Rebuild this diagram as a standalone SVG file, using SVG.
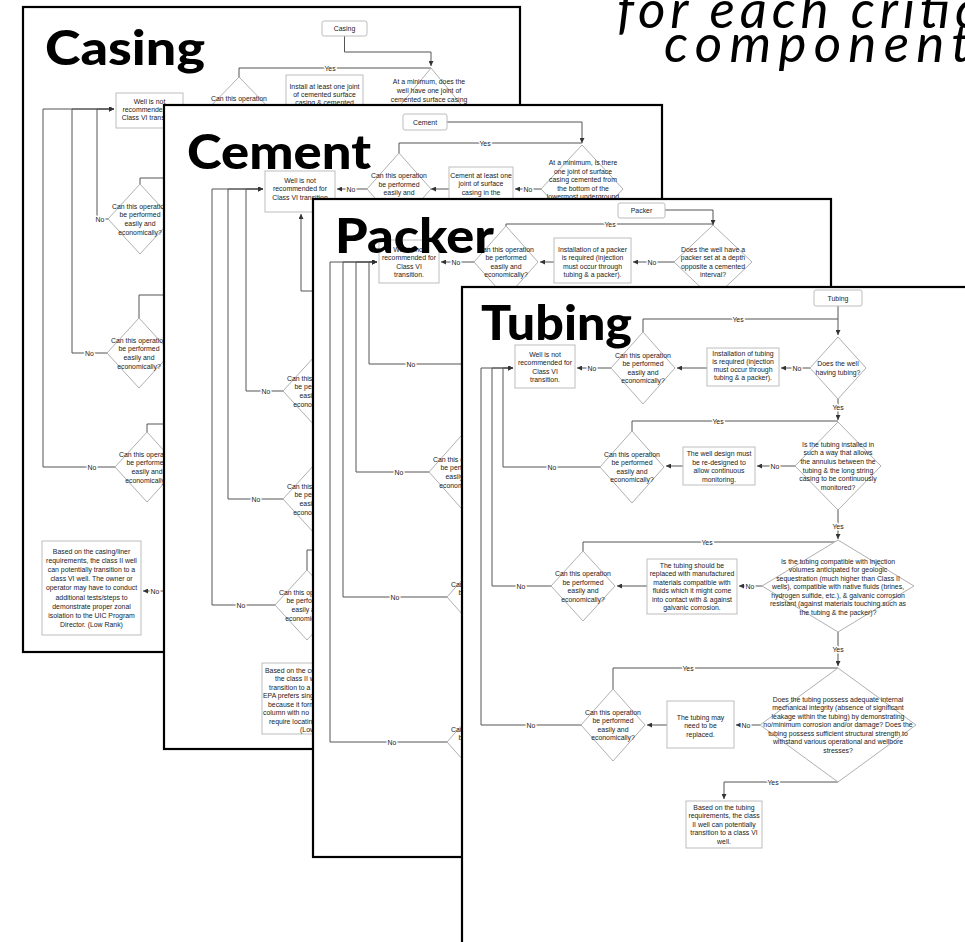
<svg xmlns="http://www.w3.org/2000/svg" width="965" height="942" viewBox="0 0 965 942">
<defs>
<marker id="ah" viewBox="0 0 6 6" refX="6" refY="3" markerWidth="5" markerHeight="5" markerUnits="userSpaceOnUse" orient="auto"><path d="M0,0 L6,3 L0,6 z" fill="#333"/></marker>
<style>
.page{fill:#fff;stroke:#000;stroke-width:2.2}
.title{font-family:"Lato","DejaVu Sans",sans-serif;font-weight:900;font-size:48px;fill:#000}
.head{font-family:"Lato","DejaVu Sans",sans-serif;font-style:italic;font-weight:400;font-size:53px;fill:#000}
.t{font-family:"Liberation Sans",Arial,sans-serif;font-size:6.9px;fill:#222;text-anchor:middle;dominant-baseline:central}
.ts{font-family:"Liberation Sans",Arial,sans-serif;font-size:6.9px;fill:#222;dominant-baseline:central}
.box{fill:#fff;stroke:#bdbdbd;stroke-width:1}
.nd{fill:#fff;stroke:#bdbdbd;stroke-width:1}
.dia{fill:#fff;stroke:#b0b0b0;stroke-width:1}
.ln{fill:none;stroke:#555;stroke-width:1}
.ar{fill:none;stroke:#555;stroke-width:1;marker-end:url(#ah)}
.lb{font-family:"Liberation Sans",Arial,sans-serif;font-size:6.9px;fill:#222;text-anchor:middle;dominant-baseline:central;paint-order:stroke;stroke:#fff;stroke-width:3px;stroke-linejoin:round}
</style>
</defs>

<g id="heading">
<text class="head" x="617" y="28" textLength="362" lengthAdjust="spacing">for each critic</text>
<text class="head" x="664" y="62" textLength="306" lengthAdjust="spacing">component</text>
</g>

<!-- ============ CASING PAGE ============ -->
<g id="page-casing">
<rect class="page" x="23" y="7" width="497" height="645"/>
<text class="title" x="45" y="65" textLength="160" lengthAdjust="spacingAndGlyphs">Casing</text>
<g id="casing-connectors">
<path class="ar" d="M344.5,36 V52 H431 V66"/>
<path class="ln" d="M239,77 V68 H431"/>
<text class="lb" x="330" y="68">Yes</text>
<path class="ar" d="M108,219 H97 V109 H114"/>
<path class="ar" d="M107,353 H72 V109 H114"/>
<path class="ar" d="M115,467 H43 V109 H114"/>
<text class="lb" x="100" y="219">No</text>
<text class="lb" x="89.5" y="353">No</text>
<text class="lb" x="92" y="467">No</text>
<path class="ln" d="M140,184 V178 H200"/>
<path class="ln" d="M139,318 V295 H200"/>
<path class="ln" d="M147,432 V424 H200"/>
<path class="ar" d="M200,591 H143"/>
<text class="lb" x="155" y="591">No</text>
</g>
<g id="casing-start"><rect class="nd" x="322" y="21" width="45" height="15" rx="2"/><text class="t" x="344.5" y="28.5">Casing</text></g>
<g id="casing-q1"><polygon class="dia" points="431,68 497,148 431,228 365,148"/>
<text class="t" x="429" y="81">At a minimum, does the</text>
<text class="t" x="429" y="90">well have one joint of</text>
<text class="t" x="429" y="99">cemented surface casing</text>
<text class="t" x="429" y="107.5">&amp; cemented long string</text></g>
<g id="casing-fix"><rect class="box" x="286" y="75" width="77" height="50"/>
<text class="t" x="324.5" y="86">Install at least one joint</text>
<text class="t" x="324.5" y="94.3">of cemented surface</text>
<text class="t" x="324.5" y="102.6">casing &amp; cemented</text></g>
<g id="casing-ask1"><polygon class="dia" points="239,77 271,110 239,143 207,110"/>
<text class="t" x="239" y="98.3">Can this operation</text>
<text class="t" x="239" y="106.8">be performed</text></g>
<g id="casing-reject"><rect class="box" x="116" y="93" width="67" height="35"/>
<text class="t" x="149.5" y="101">Well is not</text>
<text class="t" x="149.5" y="109">recommended for</text>
<text class="t" x="149.5" y="117">Class VI transition</text></g>
<g id="casing-ask2"><polygon class="dia" points="140,184 172,219 140,254 108,219"/>
<text class="t" x="140" y="206">Can this operation</text>
<text class="t" x="140" y="214.7">be performed</text>
<text class="t" x="140" y="223.4">easily and</text>
<text class="t" x="140" y="232.1">economically?</text></g>
<g id="casing-ask3"><polygon class="dia" points="139,318 171,353 139,388 107,353"/>
<text class="t" x="139" y="340">Can this operation</text>
<text class="t" x="139" y="348.7">be performed</text>
<text class="t" x="139" y="357.4">easily and</text>
<text class="t" x="139" y="366.1">economically?</text></g>
<g id="casing-ask4"><polygon class="dia" points="147,432 179,467 147,502 115,467"/>
<text class="t" x="147" y="454">Can this operation</text>
<text class="t" x="147" y="462.7">be performed</text>
<text class="t" x="147" y="471.4">easily and</text>
<text class="t" x="147" y="480.1">economically?</text></g>
<g id="casing-result"><rect class="box" x="42" y="541" width="99" height="94"/>
<text class="t" x="91.5" y="551">Based on the casing/liner</text>
<text class="t" x="91.5" y="560.2">requirements, the class II well</text>
<text class="t" x="91.5" y="569.4">can potentially transition to a</text>
<text class="t" x="91.5" y="578.6">class VI well. The owner or</text>
<text class="t" x="91.5" y="587.8">operator may have to conduct</text>
<text class="t" x="91.5" y="597">additional tests/steps to</text>
<text class="t" x="91.5" y="606.2">demonstrate proper zonal</text>
<text class="t" x="91.5" y="615.4">isolation to the UIC Program</text>
<text class="t" x="91.5" y="624.6">Director. (Low Rank)</text></g>
</g>

<!-- ============ CEMENT PAGE ============ -->
<g id="page-cement">
<rect class="page" x="164" y="105" width="498" height="644"/>
<text class="title" x="187" y="169" textLength="184" lengthAdjust="spacingAndGlyphs">Cement</text>
<g id="cement-connectors">
<path class="ar" d="M447,122 H582 V143"/>
<path class="ln" d="M399,153 V143 H582"/>
<text class="lb" x="485" y="143">Yes</text>
<path class="ar" d="M541,189 H515"/>
<text class="lb" x="528" y="189">No</text>
<path class="ar" d="M449,189 H431"/>
<path class="ar" d="M367,189 H337"/>
<text class="lb" x="351" y="189">No</text>
<path class="ar" d="M283,391 H246 V189 H263"/>
<path class="ar" d="M283,499 H228 V189 H263"/>
<path class="ar" d="M275,605 H212 V189 H263"/>
<text class="lb" x="266" y="391">No</text>
<text class="lb" x="256" y="499">No</text>
<text class="lb" x="241" y="605">No</text>
<path class="ar" d="M340,291 H301 V214"/>
<path class="ln" d="M307,570 V550 H340"/>
</g>
<g id="cement-start"><rect class="nd" x="403" y="114" width="44" height="16" rx="2"/><text class="t" x="425" y="122">Cement</text></g>
<g id="cement-q1"><polygon class="dia" points="582,145 623,189 582,233 541,189"/>
<text class="t" x="583" y="162">At a minimum, is there</text>
<text class="t" x="583" y="171">one joint of surface</text>
<text class="t" x="583" y="179.5">casing cemented from</text>
<text class="t" x="583" y="188">the bottom of the</text>
<text class="t" x="583" y="196.5">lowermost underground</text></g>
<g id="cement-fix"><rect class="box" x="449" y="167" width="64" height="60"/>
<text class="t" x="481" y="175">Cement at least one</text>
<text class="t" x="481" y="183.8">joint of surface</text>
<text class="t" x="481" y="192.6">casing in the</text></g>
<g id="cement-ask1"><polygon class="dia" points="399,153 431,189 399,225 367,189"/>
<text class="t" x="399" y="175.5">Can this operation</text>
<text class="t" x="399" y="184">be performed</text>
<text class="t" x="399" y="192.5">easily and</text></g>
<g id="cement-reject"><rect class="box" x="265" y="171" width="70" height="41"/>
<text class="t" x="300" y="180">Well is not</text>
<text class="t" x="300" y="188.5">recommended for</text>
<text class="t" x="300" y="197">Class VI transition</text></g>
<g id="cement-ask2"><polygon class="dia" points="315,356 347,391 315,426 283,391"/>
<text class="t" x="315" y="378">Can this operation</text>
<text class="t" x="315" y="386.7">be performed</text>
<text class="t" x="315" y="395.4">easily and</text>
<text class="t" x="315" y="404.1">economically?</text></g>
<g id="cement-ask3"><polygon class="dia" points="315,464 347,499 315,534 283,499"/>
<text class="t" x="315" y="486">Can this operation</text>
<text class="t" x="315" y="494.7">be performed</text>
<text class="t" x="315" y="503.4">easily and</text>
<text class="t" x="315" y="512.1">economically?</text></g>
<g id="cement-ask4"><polygon class="dia" points="307,570 339,605 307,640 275,605"/>
<text class="t" x="307" y="592">Can this operation</text>
<text class="t" x="307" y="600.7">be performed</text>
<text class="t" x="307" y="609.4">easily and</text>
<text class="t" x="307" y="618.1">economically?</text></g>
<g id="cement-result"><rect class="box" x="262" y="663" width="100" height="71"/>
<text class="ts" x="265" y="670">Based on the cement</text>
<text class="ts" x="275" y="678.5">the class II well</text>
<text class="ts" x="269" y="687">transition to a</text>
<text class="ts" x="263" y="695.5">EPA prefers single</text>
<text class="ts" x="268" y="704">because it forms</text>
<text class="ts" x="263" y="712.5">column with no</text>
<text class="ts" x="269" y="721">require locating</text>
<text class="ts" x="300" y="729.5">(Low</text></g>
</g>

<!-- ============ PACKER PAGE ============ -->
<g id="page-packer">
<rect class="page" x="313" y="199" width="518" height="658"/>
<g id="packer-connectors">
<path class="ar" d="M665,210 H713 V225"/>
<path class="ln" d="M506,226 V224 H713"/>
<text class="lb" x="610" y="224">Yes</text>
<path class="ar" d="M674,262 H633"/>
<text class="lb" x="652" y="262">No</text>
<path class="ar" d="M554,262 H540"/>
<path class="ar" d="M474,262 H441"/>
<text class="lb" x="456" y="262">No</text>
<path class="ar" d="M480,364 H369 V262 H377"/>
<path class="ar" d="M429,472 H356 V262 H377"/>
<path class="ar" d="M447,597 H343 V262 H377"/>
<path class="ar" d="M447,742 H330 V262 H377"/>
<text class="lb" x="411" y="364">No</text>
<text class="lb" x="399" y="472">No</text>
<text class="lb" x="395" y="597">No</text>
<text class="lb" x="392" y="742">No</text>
</g>
<g id="packer-start"><rect class="nd" x="618" y="203" width="47" height="15" rx="2"/><text class="t" x="641.5" y="210.5">Packer</text></g>
<g id="packer-q1"><polygon class="dia" points="713,225 752,262 713,299 674,262"/>
<text class="t" x="713" y="249">Does the well have a</text>
<text class="t" x="713" y="257.5">packer set at a depth</text>
<text class="t" x="713" y="266">opposite a cemented</text>
<text class="t" x="713" y="274.5">interval?</text></g>
<g id="packer-fix"><rect class="box" x="554" y="238" width="77" height="45"/>
<text class="t" x="592.5" y="249">Installation of a packer</text>
<text class="t" x="592.5" y="257.5">is required (injection</text>
<text class="t" x="592.5" y="266">must occur through</text>
<text class="t" x="592.5" y="274.5">tubing &amp; a packer).</text></g>
<g id="packer-ask1"><polygon class="dia" points="506,226 538,262 506,298 474,262"/>
<text class="t" x="506" y="249">Can this operation</text>
<text class="t" x="506" y="257.5">be performed</text>
<text class="t" x="506" y="266">easily and</text>
<text class="t" x="506" y="274.5">economically?</text></g>
<g id="packer-reject"><rect class="box" x="379" y="240" width="60" height="43"/>
<text class="t" x="409" y="249">Well is not</text>
<text class="t" x="409" y="257.5">recommended for</text>
<text class="t" x="409" y="266">Class VI</text>
<text class="t" x="409" y="274.5">transition.</text></g>
<g id="packer-ask2"><polygon class="dia" points="461,436 493,472 461,508 429,472"/>
<text class="t" x="461" y="459">Can this operation</text>
<text class="t" x="461" y="467.7">be performed</text>
<text class="t" x="461" y="476.4">easily and</text>
<text class="t" x="461" y="485.1">economically?</text></g>
<g id="packer-ask3"><polygon class="dia" points="479,561 511,597 479,633 447,597"/>
<text class="t" x="479" y="584">Can this operation</text>
<text class="t" x="479" y="592.7">be performed</text>
<text class="t" x="479" y="601.4">easily and</text></g>
<g id="packer-ask4"><polygon class="dia" points="479,706 511,742 479,778 447,742"/>
<text class="t" x="479" y="729">Can this operation</text>
<text class="t" x="479" y="737.7">be performed</text>
<text class="t" x="479" y="746.4">easily and</text></g>
<text class="title" x="335" y="253" textLength="159" lengthAdjust="spacingAndGlyphs">Packer</text>
</g>

<!-- ============ TUBING PAGE ============ -->
<g id="page-tubing">
<rect class="page" x="462" y="287" width="540" height="700"/>
<g id="tubing-connectors">
<path class="ar" d="M838,306 V335"/>
<path class="ln" d="M643,332 V319 H838"/>
<text class="lb" x="738" y="319">Yes</text>
<path class="ar" d="M810,368 H781"/>
<text class="lb" x="797" y="368">No</text>
<path class="ar" d="M707,368 H677"/>
<path class="ar" d="M611,368 H577"/>
<text class="lb" x="592" y="368">No</text>
<path class="ar" d="M838,399 V420"/>
<text class="lb" x="838" y="407">Yes</text>
<path class="ln" d="M632,431 V421 H838"/>
<text class="lb" x="718" y="421">Yes</text>
<path class="ar" d="M795,466 H757"/>
<text class="lb" x="775" y="466">No</text>
<path class="ar" d="M683,466 H666"/>
<path class="ar" d="M600,467 H503 V368 H513"/>
<path class="ar" d="M551,586 H492 V368 H513"/>
<path class="ar" d="M581,725 H481 V368 H513"/>
<text class="lb" x="552" y="467">No</text>
<text class="lb" x="521" y="586">No</text>
<text class="lb" x="531" y="725">No</text>
<path class="ar" d="M838,510 V539"/>
<text class="lb" x="838" y="526">Yes</text>
<path class="ln" d="M583,551 V542 H838"/>
<text class="lb" x="707" y="542">Yes</text>
<path class="ar" d="M762,586 H739"/>
<text class="lb" x="750" y="586">No</text>
<path class="ar" d="M647,586 H617"/>
<path class="ar" d="M838,632 V666"/>
<text class="lb" x="838" y="649">Yes</text>
<path class="ln" d="M613,689 V668 H838"/>
<text class="lb" x="688" y="668">Yes</text>
<path class="ar" d="M760,725 H736"/>
<text class="lb" x="746" y="725">No</text>
<path class="ar" d="M667,725 H647"/>
<path class="ar" d="M838,782 H724 V799"/>
<text class="lb" x="773" y="782">Yes</text>
</g>
<g id="tubing-start"><rect class="nd" x="814" y="290" width="48" height="16" rx="2"/><text class="t" x="838" y="298">Tubing</text></g>
<g id="tubing-q1"><polygon class="dia" points="838,337 866,368 838,399 810,368"/>
<text class="t" x="838" y="363.5">Does the well</text>
<text class="t" x="838" y="372">having tubing?</text></g>
<g id="tubing-fix1"><rect class="box" x="707" y="348" width="72" height="38"/>
<text class="t" x="743" y="353.5">Installation of tubing</text>
<text class="t" x="743" y="361.5">is required (injection</text>
<text class="t" x="743" y="369.5">must occur through</text>
<text class="t" x="743" y="377.5">tubing &amp; a packer).</text></g>
<g id="tubing-ask1"><polygon class="dia" points="643,332 675,368 643,404 611,368"/>
<text class="t" x="643" y="355">Can this operation</text>
<text class="t" x="643" y="363.5">be performed</text>
<text class="t" x="643" y="372">easily and</text>
<text class="t" x="643" y="380.5">economically?</text></g>
<g id="tubing-reject"><rect class="box" x="515" y="345" width="60" height="43"/>
<text class="t" x="545" y="354">Well is not</text>
<text class="t" x="545" y="362.5">recommended for</text>
<text class="t" x="545" y="371">Class VI</text>
<text class="t" x="545" y="379.5">transition.</text></g>
<g id="tubing-q2"><polygon class="dia" points="838,422 881,466 838,510 795,466"/>
<text class="t" x="838" y="444">Is the tubing installed in</text>
<text class="t" x="838" y="452.7">such a way that allows</text>
<text class="t" x="838" y="461.4">the annulus between the</text>
<text class="t" x="838" y="470.1">tubing &amp; the long string</text>
<text class="t" x="838" y="478.8">casing to be continuously</text>
<text class="t" x="838" y="487.5">monitored?</text></g>
<g id="tubing-fix2"><rect class="box" x="683" y="447" width="72" height="38"/>
<text class="t" x="719" y="453.5">The well design must</text>
<text class="t" x="719" y="462">be re-designed to</text>
<text class="t" x="719" y="470.5">allow continuous</text>
<text class="t" x="719" y="479">monitoring.</text></g>
<g id="tubing-ask2"><polygon class="dia" points="632,431 664,467 632,503 600,467"/>
<text class="t" x="632" y="454">Can this operation</text>
<text class="t" x="632" y="462.5">be performed</text>
<text class="t" x="632" y="471">easily and</text>
<text class="t" x="632" y="479.5">economically?</text></g>
<g id="tubing-q3"><polygon class="dia" points="838,540 914,586 838,632 762,586"/>
<text class="t" x="838" y="561">Is the tubing compatible with injection</text>
<text class="t" x="838" y="569.5">volumes anticipated for geologic</text>
<text class="t" x="838" y="578">sequestration (much higher than Class II</text>
<text class="t" x="838" y="586.5">wells), compatible with native fluids (brines,</text>
<text class="t" x="838" y="595">hydrogen sulfide, etc.), &amp; galvanic corrosion</text>
<text class="t" x="838" y="603.5">resistant (against materials touching such as</text>
<text class="t" x="838" y="612">the tubing &amp; the packer)?</text></g>
<g id="tubing-fix3"><rect class="box" x="647" y="559" width="90" height="55"/>
<text class="t" x="692" y="565">The tubing should be</text>
<text class="t" x="692" y="573.5">replaced with manufactured</text>
<text class="t" x="692" y="582">materials compatible with</text>
<text class="t" x="692" y="590.5">fluids which it might come</text>
<text class="t" x="692" y="599">into contact with &amp; against</text>
<text class="t" x="692" y="607.5">galvanic corrosion.</text></g>
<g id="tubing-ask3"><polygon class="dia" points="583,551 615,586 583,621 551,586"/>
<text class="t" x="583" y="573.5">Can this operation</text>
<text class="t" x="583" y="582">be performed</text>
<text class="t" x="583" y="590.5">easily and</text>
<text class="t" x="583" y="599">economically?</text></g>
<g id="tubing-q4"><polygon class="dia" points="838,668 916,725 838,782 760,725"/>
<text class="t" x="838" y="699">Does the tubing possess adequate internal</text>
<text class="t" x="838" y="707.5">mechanical integrity (absence of significant</text>
<text class="t" x="838" y="716">leakage within the tubing) by demonstrating</text>
<text class="t" x="838" y="724.5">no/minimum corrosion and/or damage? Does the</text>
<text class="t" x="838" y="733">tubing possess sufficient structural strength to</text>
<text class="t" x="838" y="741.5">withstand various operational and wellbore</text>
<text class="t" x="838" y="750">stresses?</text></g>
<g id="tubing-fix4"><rect class="box" x="667" y="701" width="67" height="47"/>
<text class="t" x="700.5" y="717">The tubing may</text>
<text class="t" x="700.5" y="725.5">need to be</text>
<text class="t" x="700.5" y="734">replaced.</text></g>
<g id="tubing-ask4"><polygon class="dia" points="613,689 645,725 613,761 581,725"/>
<text class="t" x="613" y="712">Can this operation</text>
<text class="t" x="613" y="720.5">be performed</text>
<text class="t" x="613" y="729">easily and</text>
<text class="t" x="613" y="737.5">economically?</text></g>
<g id="tubing-result"><rect class="box" x="686" y="801" width="76" height="47"/>
<text class="t" x="724" y="807">Based on the tubing</text>
<text class="t" x="724" y="815.5">requirements, the class</text>
<text class="t" x="724" y="824">II well can potentially</text>
<text class="t" x="724" y="832.5">transition to a class VI</text>
<text class="t" x="724" y="841">well.</text></g>
<text class="title" x="481" y="340" textLength="151" lengthAdjust="spacingAndGlyphs">Tubing</text>
</g>
</svg>
